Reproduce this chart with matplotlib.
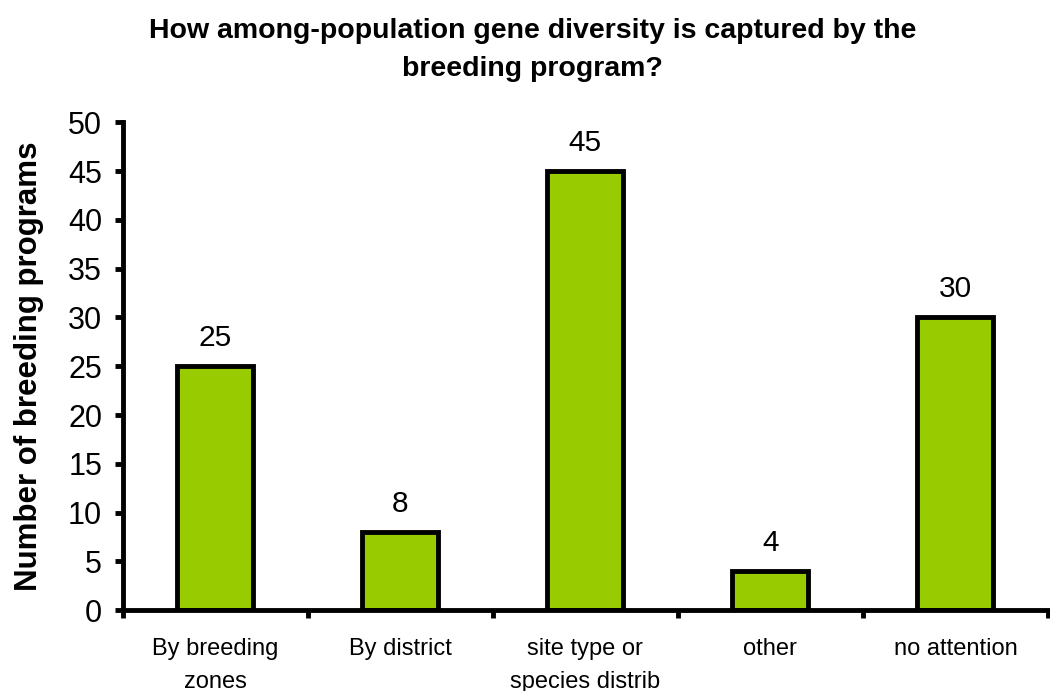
import matplotlib.pyplot as plt
import numpy as np

plt.rcParams['font.family'] = ['Liberation Sans', 'DejaVu Sans']

categories = ['By breeding\nzones', 'By district', 'site type or\nspecies distrib',
              'other', 'no attention']
counts = [25, 8, 45, 4, 30]
yticks = [0, 5, 10, 15, 20, 25, 30, 35, 40, 45, 50]

BAR_COLOR = '#99CC00'

fig = plt.figure(figsize=(10.5, 6.91), dpi=100)
ax = fig.add_axes([0.117, 0.117, 0.881, 0.706])

x = np.arange(len(categories))
ax.bar(x, counts, width=0.41, color=BAR_COLOR, edgecolor='black', linewidth=3.5)

for xi, v in zip(x, counts):
    ax.text(xi, v + 2.1, str(v), ha='center', va='baseline', fontsize=21.5)

ax.set_xlim(-0.5, len(categories) - 0.5)
ax.set_ylim(0, 50)
ax.set_yticks(yticks)
ax.tick_params(axis='y', labelsize=22, direction='out', length=6, width=3.5, pad=9)

# category labels sit between the boundary ticks
ax.set_xticks(np.arange(len(categories) + 1) - 0.5)
ax.set_xticklabels([])
ax.tick_params(axis='x', direction='out', length=6, width=3.5)
for xi, lab in zip(x, categories):
    ax.text(xi, -2.9, lab, ha='center', va='top', fontsize=17, linespacing=1.6)

for side in ['top', 'right']:
    ax.spines[side].set_visible(False)
for side in ['left', 'bottom']:
    ax.spines[side].set_linewidth(3.5)

ax.set_ylabel('Number of breeding programs', fontsize=22.5, fontweight='bold', labelpad=17)
fig.text(0.507, 0.928, 'How among-population gene diversity is captured by the\nbreeding program?',
         ha='center', va='center', fontsize=20.5, fontweight='bold', linespacing=1.6)

fig.savefig('out.png', dpi=100)
